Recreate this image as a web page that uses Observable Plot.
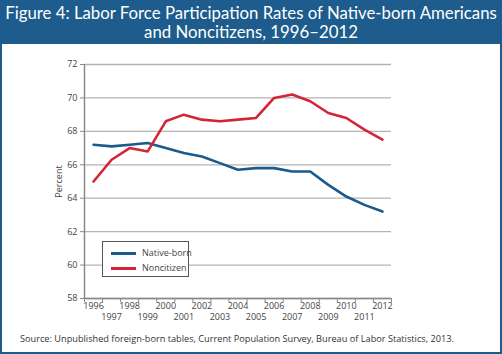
<!DOCTYPE html>
<html>
<head>
<meta charset="utf-8">
<script src="https://cdn.jsdelivr.net/npm/d3@7"></script>
<script src="https://cdn.jsdelivr.net/npm/@observablehq/plot@0.6"></script>
<style>
  html, body { margin: 0; padding: 0; background: #fff; }
  #fig { position: relative; width: 498px; height: 350px; border: 2px solid #1d5c8c; background: #fff; overflow: hidden; }
  #hdr { height: 41px; background: #1d5c8c; color: #fff; font-family: Lato, "Open Sans", sans-serif; font-size: 16.8px; line-height: 19px; text-align: center; padding-top: 1px; white-space: nowrap; }
  #chart { position: absolute; left: 0; top: 43px; }
  #src { position: absolute; left: 18px; top: 330px; font-family: "Open Sans", sans-serif; font-size: 9.2px; color: #333; white-space: nowrap; }
  #legend { position: absolute; left: 100px; top: 239px; width: 85px; height: 34px; border: 1px solid #555; background: #fff; font-family: "Open Sans", sans-serif; font-size: 9px; color: #444; }
  .li { position: absolute; left: 8px; height: 12px; line-height: 12px; white-space: nowrap; }
  .sw { display: inline-block; width: 25px; height: 2.5px; vertical-align: middle; margin-right: 6px; }
</style>
</head>
<body>
<div id="fig">
  <div id="hdr">Figure 4: Labor Force Participation Rates of Native-born Americans<br>and Noncitizens, 1996–2012</div>
  <div id="chart"></div>
  <div id="legend"></div>
  <div id="src">Source: Unpublished foreign-born tables, Current Population Survey, Bureau of Labor Statistics, 2013.</div>
</div>
<script>
const years = [1996, 1997, 1998, 1999, 2000, 2001, 2002, 2003, 2004, 2005, 2006, 2007, 2008, 2009, 2010, 2011, 2012];
const nativeBorn = [67.2, 67.1, 67.2, 67.3, 67.0, 66.7, 66.5, 66.1, 65.7, 65.8, 65.8, 65.6, 65.6, 64.8, 64.1, 63.6, 63.2];
const noncitizen = [65.0, 66.3, 67.0, 66.8, 68.6, 69.0, 68.7, 68.6, 68.7, 68.8, 70.0, 70.2, 69.8, 69.1, 68.8, 68.1, 67.5];
const seriesNames = ["Native-born", "Noncitizen"];
const seriesColors = ["#1b5a8c", "#d42538"];
const yTicks = [58, 60, 62, 64, 66, 68, 70, 72];
const evenYears = years.filter(y => y % 2 === 0);
const oddYears = years.filter(y => y % 2 === 1);
const boundaries = [...years.map(y => y - 0.5), years[years.length - 1] + 0.5];

const rows = [];
years.forEach((y, i) => {
  rows.push({year: y, value: nativeBorn[i], series: seriesNames[0]});
  rows.push({year: y, value: noncitizen[i], series: seriesNames[1]});
});

const chart = Plot.plot({
  width: 498,
  height: 285,
  marginTop: 19,
  marginBottom: 32,
  marginLeft: 82,
  marginRight: 109,
  x: {domain: [years[0] - 0.5, years[years.length - 1] + 0.5]},
  y: {domain: [58, 72]},
  color: {domain: seriesNames, range: seriesColors},
  style: {fontFamily: "'Open Sans', sans-serif", fontSize: "9px", color: "#444", background: "transparent"},
  marks: [
    Plot.gridY(yTicks, {stroke: "#b4b4b4", strokeOpacity: 1, strokeWidth: 1.3}),
    Plot.axisY(yTicks, {tickSize: 4, tickPadding: 3, stroke: "#888", label: "Percent", labelAnchor: "center", labelArrow: "none", labelOffset: 29, tickFormat: d => String(d)}),
    Plot.axisX(boundaries, {tickSize: 4, stroke: "#888", tickFormat: () => "", label: null}),
    Plot.axisX(evenYears, {tickSize: 0, tickPadding: 4, tickFormat: d => String(d), label: null}),
    Plot.axisX(oddYears, {tickSize: 0, tickPadding: 15, tickFormat: d => String(d), label: null}),
    Plot.ruleX([years[0] - 0.5], {stroke: "#888", strokeWidth: 1.5}),
    Plot.ruleY([58], {stroke: "#888", strokeWidth: 1.5}),
    Plot.lineY(rows, {x: "year", y: "value", z: "series", stroke: "series", strokeWidth: 2.6})
  ]
});
document.getElementById("chart").appendChild(chart);

const leg = document.getElementById("legend");
seriesNames.forEach((n, i) => {
  const d = document.createElement("div");
  d.className = "li";
  d.style.top = (5 + i * 15) + "px";
  d.innerHTML = `<span class="sw" style="background:${seriesColors[i]}"></span>${n}`;
  leg.appendChild(d);
});
</script>
</body>
</html>
